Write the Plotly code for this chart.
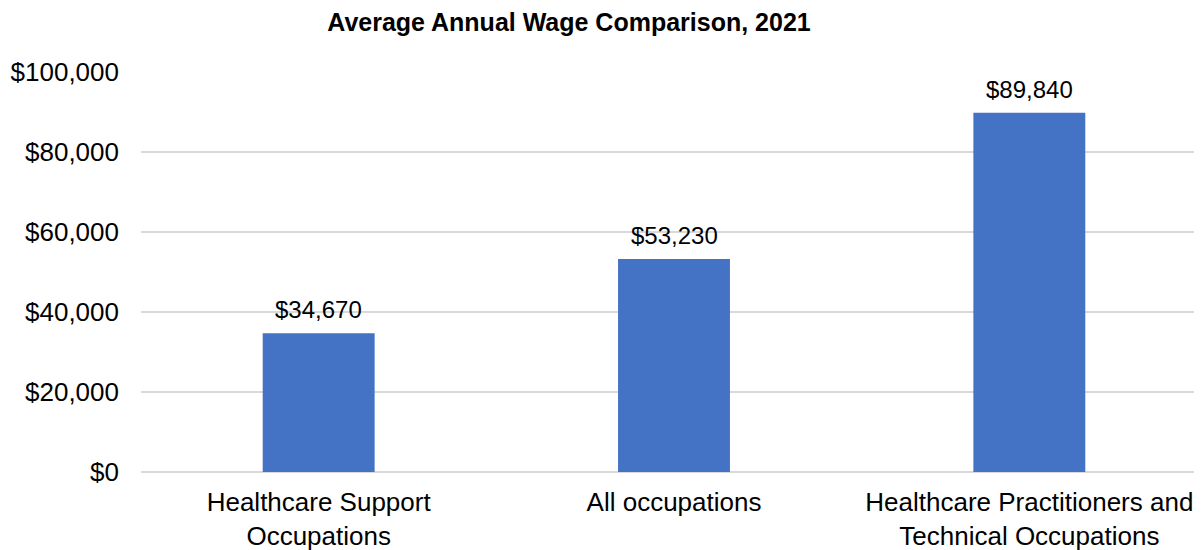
import plotly.graph_objects as go

categories = ["Healthcare Support<br>Occupations", "All occupations",
              "Healthcare Practitioners and<br>Technical Occupations"]
wages = [34670, 53230, 89840]
tick_vals = [0, 20000, 40000, 60000, 80000, 100000]
tick_text = ["$0", "$20,000", "$40,000", "$60,000", "$80,000", "$100,000"]
labels = ["${:,}".format(v) for v in wages]

FONT = "Liberation Sans, Arial, sans-serif"
OFF = 8  # page body margin

fig = go.Figure(go.Bar(
    x=categories, y=wages, marker_color="#4472C4", marker_line_width=0,
    width=0.315, hoverinfo="x+y",
))

for c, v, t in zip(categories, wages, labels):
    fig.add_annotation(x=c, y=v, text=t, showarrow=False, yanchor="bottom",
                       yshift=8, font=dict(family=FONT, size=24, color="#000000"))

fig.update_layout(
    width=1202, height=550,
    margin=dict(l=139 - OFF, r=3, t=72 - OFF, b=78 + OFF),
    plot_bgcolor="white", paper_bgcolor="white",
    showlegend=False,
    title=dict(text="<b>Average Annual Wage Comparison, 2021</b>",
               font=dict(family=FONT, size=25, color="#000000"),
               x=(569 - OFF) / 1202, xref="container", xanchor="center",
               y=1 - (22 - OFF) / 550, yref="container", yanchor="middle"),
    font=dict(family=FONT, size=26, color="#000000"),
)
fig.update_xaxes(range=[-0.5, 2.5], showline=False, ticks="",
                 tickfont=dict(family=FONT, size=26, color="#000000"),
                 showgrid=False, ticklabelstandoff=12)
fig.update_yaxes(range=[0, 100000], tickvals=tick_vals, ticktext=tick_text,
                 showgrid=True, gridcolor="#D9D9D9", gridwidth=1.5,
                 zeroline=True, zerolinecolor="#D9D9D9", zerolinewidth=1.5,
                 showline=False, ticks="", ticklabelstandoff=21,
                 tickfont=dict(family=FONT, size=26, color="#000000"))

fig.write_html("out.html")
